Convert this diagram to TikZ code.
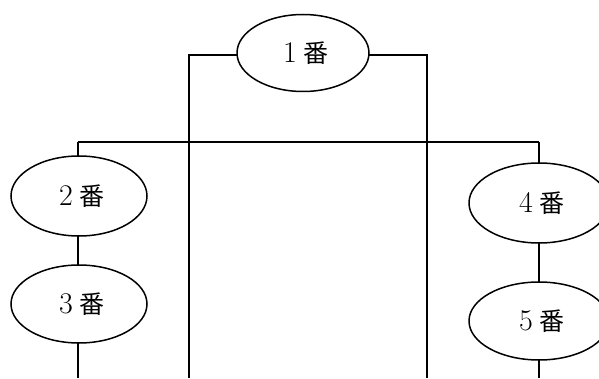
\documentclass[tikz,border=0pt]{standalone}
\usepackage{fontspec}
\newfontfamily\jpfont{Noto Sans CJK JP}
\usetikzlibrary{shapes.geometric}
% label: a full-width serif digit followed by the kanji
\newcommand\bangou[1]{\makebox[25pt][c]{\fontsize{30}{30}\selectfont #1}\hspace{1pt}{\jpfont\fontsize{25}{25}\selectfont 番}}
\tikzset{
  bubble/.style={ellipse, draw, line width=1.5pt, fill=white, inner sep=0pt},
  wire/.style={line width=2pt}
}
\begin{document}
\begin{tikzpicture}[x=1pt,y=1pt]
\useasboundingbox (0,0) rectangle (599,378);
\clip (0,0) rectangle (599,378);
\fill[white] (0,0) rectangle (599,378);
% coordinates for the wiring
\coordinate (bl) at (188.5,0);
\coordinate (br) at (427,0);
\coordinate (tl) at (78,235.5);
\coordinate (tr) at (539,235.5);
\coordinate (b3) at (78,0);
\coordinate (b5) at (539,0);
% wires (drawn first so the ellipses sit on top)
\draw[wire] (303,323) -| (bl);
\draw[wire] (303,323) -| (br);
\draw[wire] (tl) -- (tr);
\draw[wire] (tl) -- (b3);
\draw[wire] (tr) -- (b5);
% ellipses
\node[bubble, minimum width=132pt, minimum height=77pt] (n1) at (303,325) {\bangou{1}};
\node[bubble, minimum width=136pt, minimum height=80pt] (n2) at (79,182) {\bangou{2}};
\node[bubble, minimum width=136pt, minimum height=78pt] (n3) at (79,74) {\bangou{3}};
\node[bubble, minimum width=140pt, minimum height=80pt] (n4) at (539,175) {\bangou{4}};
\node[bubble, minimum width=140pt, minimum height=78pt] (n5) at (539,57) {\bangou{5}};
\end{tikzpicture}
\end{document}
